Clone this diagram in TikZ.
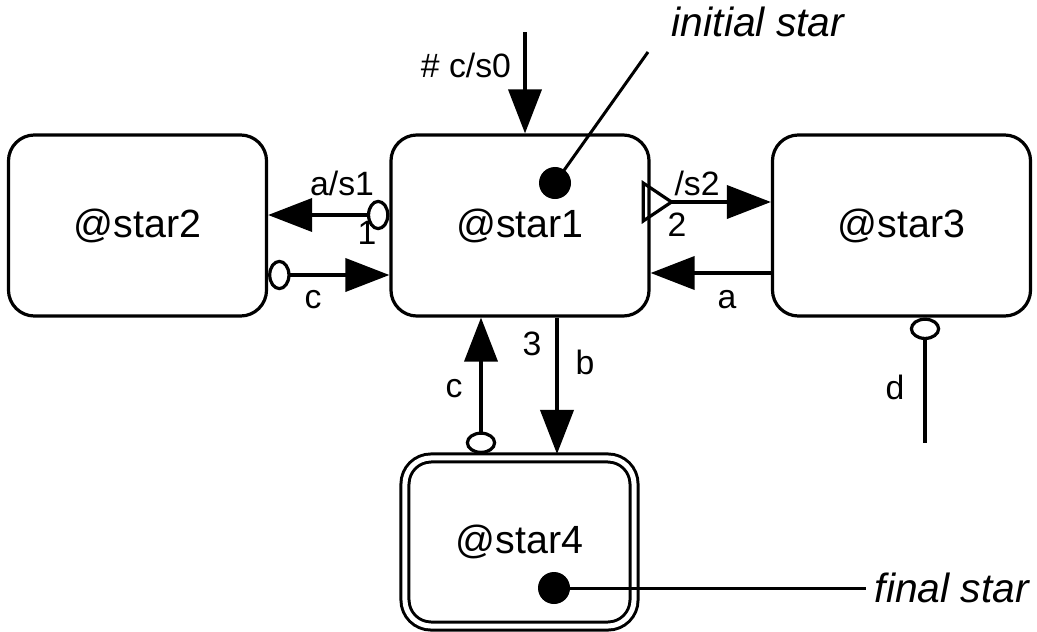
\documentclass[tikz,border=0pt]{standalone}
\usepackage{fontspec}
\setmainfont{Liberation Sans}
\usetikzlibrary{arrows.meta}

\tikzset{
  star/.style={draw, line width=0.08cm, rounded corners=0.65cm,
    minimum width=6.45cm, minimum height=4.525cm,
    font=\fontsize{28}{32}\selectfont},
  finalstar/.style={star, double, double distance=0.125cm, line width=0.075cm,
    minimum width=5.725cm, minimum height=4.2cm, outer sep=0.1cm},
  dot/.style={circle, fill, inner sep=0pt, minimum size=0.8cm},
  lab/.style={font=\fontsize{24}{28}\selectfont, inner sep=0pt},
  note/.style={font=\fontsize{29}{34}\selectfont\itshape},
  trans/.style={line width=0.08cm, -{Triangle[length=1.1cm,width=0.83cm]}},
  otrans/.style={line width=0.08cm,
    {Circle[open,length=0.56cm,width=0.76cm]}-{Triangle[length=1.1cm,width=0.83cm]}},
  ttrans/.style={line width=0.08cm,
    {Triangle[open,reversed,length=0.82cm,width=1.08cm]}-{Triangle[length=1.1cm,width=0.83cm]}},
  oline/.style={line width=0.08cm, {Circle[open,length=0.56cm,width=0.76cm]}-},
  leader/.style={line width=0.075cm}
}

\begin{document}
\begin{tikzpicture}[x=0.025cm, y=-0.025cm]
  \useasboundingbox (0,0) rectangle (1037,631);

  % states
  \node[star] (star1) at (520,225.5) {@star1};
  \node[star] (star2) at (137.5,225.5) {@star2};
  \node[star] (star3) at (901.5,225.5) {@star3};
  \node[finalstar] (star4) at (519.5,542) {@star4};

  % initial and final marks
  \node[dot] (ini) at (555,183) {};
  \node[dot] (fin) at (554,588) {};
  \coordinate (iniend) at (648,52);
  \node[note] (initxt) at (758,22) {initial star};
  \node[note, anchor=west, inner sep=6pt] (fintxt) at (866,588) {final star};
  \draw[leader] (ini.center) -- (iniend);
  \draw[leader] (fin.center) -- (fintxt.west);

  % transitions
  \coordinate (init) at (525,32);
  \draw[trans] (init) -- (init |- star1.north);
  \draw[otrans] ([shift={(0,-10.5)}]star1.west) coordinate (a1) -- (a1 -| star2.east);
  \draw[otrans] ([shift={(0,49.5)}]star2.east) coordinate (c2) -- (c2 -| star1.west);
  \draw[ttrans] ([shift={(-9,-23.5)}]star1.east) coordinate (s2) -- (s2 -| star3.west);
  \draw[trans] ([shift={(0,47.5)}]star3.west) coordinate (a3) -- (a3 -| star1.east);
  \draw[otrans] ([shift={(-38.5,0)}]star4.north) coordinate (c4) -- (c4 |- star1.south);
  \draw[trans] ([shift={(37,0)}]star1.south) coordinate (b1) -- (b1 |- star4.north);
  \coordinate (dend) at (925,443);
  \draw[oline] (dend |- star3.south) -- (dend);

  % labels
  \node[lab] (l0) at (466,65) {\# c/s0};
  \node[lab] (l1) at (342,183) {a/s1};
  \node[lab] (l1n) at (367,233) {1};
  \node[lab] (l2) at (313,300) {c};
  \node[lab] (l3) at (697,183) {/s2};
  \node[lab] (l3n) at (677,225) {2};
  \node[lab] (l4) at (727,300) {a};
  \node[lab] (l5n) at (532,344) {3};
  \node[lab] (l5) at (585,362) {b};
  \node[lab] (l6) at (454,389) {c};
  \node[lab] (l7) at (895,387) {d};
\end{tikzpicture}
\end{document}
